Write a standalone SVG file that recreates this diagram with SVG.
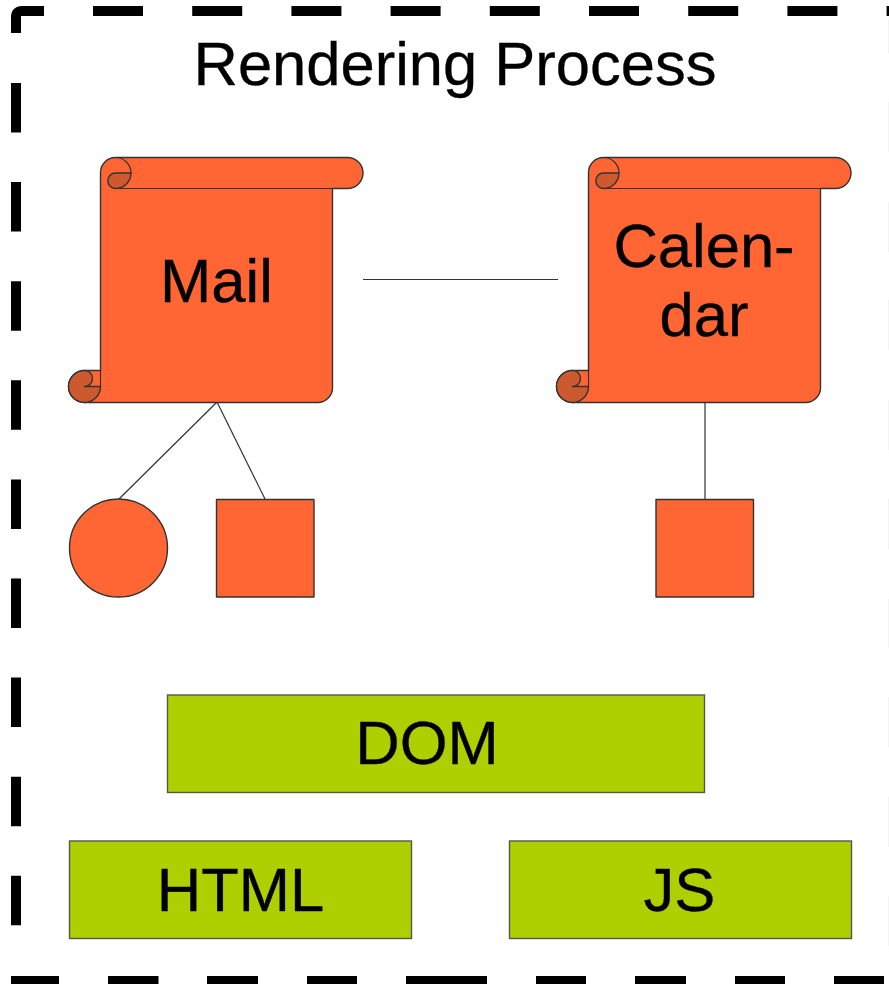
<svg xmlns="http://www.w3.org/2000/svg" width="889" height="984" viewBox="0 0 889 984">
<style>
text{font-family:"Liberation Sans",Arial,sans-serif;fill:#000;text-anchor:middle;stroke:#000;stroke-width:.35}
.t{font-size:61.500px}
.o{fill:#ff6633;stroke:#333;stroke-width:1.4;stroke-linejoin:round}
.d{fill:#cc5a2e;stroke:#333;stroke-width:1.4;stroke-linejoin:round}
.g{fill:#afd000;stroke:#555;stroke-width:1.4}
.c{fill:none;stroke:#333;stroke-width:1.2}
.f{fill:none;stroke:#000;stroke-width:10}
</style>
<defs>
<g id="scroll">
<path class="o" d="M-16 213H0V15A15 15 0 0 1 15 0H247A15.500 15.500 0 0 1 247 31H232V229A15 15 0 0 1 217 245H-16A16 16 0 0 1 -16 213Z"/>
<path class="c" d="M15 0A15.500 15.500 0 0 1 30.500 15.500"/>
<path class="d" d="M15 15.500H30.500A15.500 15.500 0 0 1 15 31A7.700 7.700 0 0 1 15 15.500Z"/>
<path class="c" d="M15 31H232"/>
<path class="d" d="M-16 213A16 16 0 0 0 -16 245A16 16 0 0 0 0 229H-16A8 8 0 0 0 -16 213Z"/>
<path class="c" d="M0 213V229"/>
</g>
</defs>
<g id="frame">
<path class="f" d="M16 33V17Q16 11 22 11H44"/>
<path class="f" d="M93 11H889" stroke-dasharray="50 49.200"/>
<path class="f" d="M16 83V930" stroke-dasharray="49.500 49.600"/>
<path class="f" d="M16 976V981H59M108 981H158.500M207 981H258M307 981H357M406 981H487M536 981H586M635 981H686M735 981H785M834 981H884"/>
<path d="M888.500 20V53M888.500 102V152M888.500 202V252M888.500 300V350M888.500 400V450M888.500 499V549M888.500 599V648M888.500 697V747M888.500 797V847M888.500 896V946" fill="none" stroke="#f3f3f3" stroke-width="1"/>
</g>
<g id="connectors">
<path class="c" d="M363 279.500H558"/>
<path class="c" d="M217 402L119 499"/>
<path class="c" d="M217 402L265 499"/>
<path class="c" d="M705 402V499"/>
</g>
<g id="title"><text class="t" x="455" y="85">Rendering Process</text></g>
<g id="mail"><use href="#scroll" x="100.500" y="157.500"/><text class="t" x="216.500" y="302">Mail</text></g>
<g id="calendar"><use href="#scroll" x="588.500" y="157.500"/><text class="t" x="704" y="267">Calen-</text><text class="t" x="704" y="336">dar</text></g>
<g id="circle"><circle class="o" cx="118.500" cy="548" r="49"/></g>
<g id="square1"><rect class="o" x="216.500" y="499.500" width="97.500" height="97.500"/></g>
<g id="square2"><rect class="o" x="656" y="499.500" width="97.500" height="97.500"/></g>
<g id="dom"><rect class="g" x="167.500" y="695" width="537" height="97.500"/><text class="t" x="427" y="764">DOM</text></g>
<g id="html"><rect class="g" x="69.500" y="841" width="342" height="97.500"/><text class="t" x="240.500" y="911">HTML</text></g>
<g id="js"><rect class="g" x="509.500" y="841" width="342" height="97.500"/><text class="t" x="679.500" y="911">JS</text></g>
</svg>
